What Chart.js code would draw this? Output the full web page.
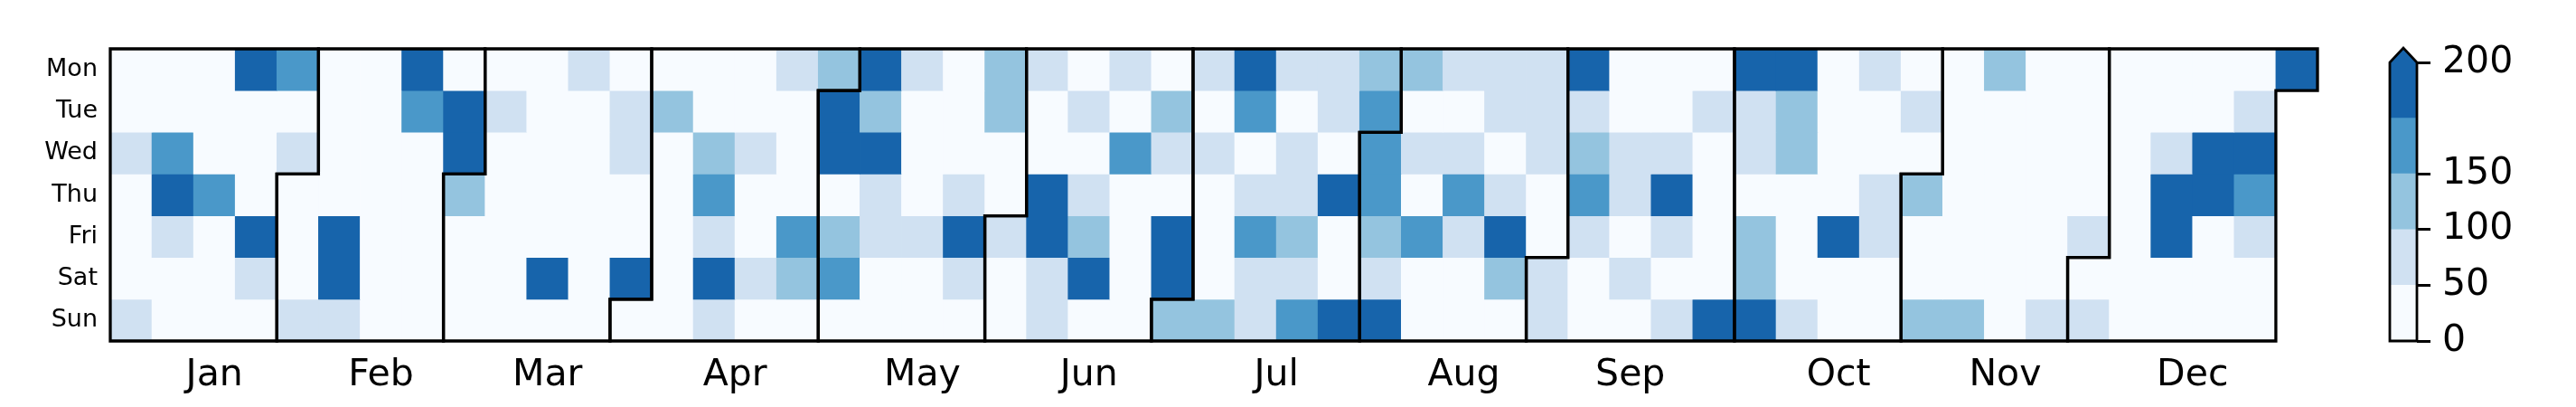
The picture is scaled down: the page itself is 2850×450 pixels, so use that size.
<!DOCTYPE html>
<html><head><meta charset="utf-8">
<script src="https://cdn.jsdelivr.net/npm/chart.js@4.4.1/dist/chart.umd.min.js"></script>
<style>
html,body{margin:0;padding:0;background:#fff;width:2850px;height:450px;overflow:hidden}
#heat{position:absolute;left:0;top:0;width:2600px;height:450px}
#cbar{position:absolute;left:2600px;top:0;width:250px;height:450px}
</style></head><body>
<div id="heat"><canvas id="c1"></canvas></div>
<div id="cbar"><canvas id="c2"></canvas></div>
<script>
const year = 2018;
const monthNames = ['Jan','Feb','Mar','Apr','May','Jun','Jul','Aug','Sep','Oct','Nov','Dec'];
const weekdayLabels = ['Mon','Tue','Wed','Thu','Fri','Sat','Sun'];

// daily values, one array per month
const jan = [14,22,68,9,31,17,74, 26,11,162,214,81,19,35, 8,27,13,158,21,40,16, 236,29,12,33,191,66,24, 167,18,72];
const feb = [20,34,15,63, 28,10,41,23,205,188,77, 12,36,19,25,7,30,14, 221,164,16,38,22,9,27, 33,247,196];
const mar = [118,25,11,37, 19,84,29,6,42,15,24, 32,13,21,44,10,209,26, 71,18,35,9,28,40,14, 23,58,92,16,31,183];
const apr = [17, 30,127,12,45,21,8,36, 24,15,133,171,64,229,88, 11,39,55,20,27,97,13, 61,34,18,42,159,141,22, 108];
const may = [193,218,26,112,166,14, 254,136,201,79,57,33,19, 69,41,10,28,86,23,37, 15,29,44,62,187,75,20, 124,102,31,12];
const jun = [83,25,38, 59,16,43,232,199,91,67, 27,73,11,56,129,211,34, 80,22,168,9,47,30,18, 26,115,64,39,242,185];
const jul = [137, 66,21,94,33,14,45,121, 226,157,28,70,163,88,52, 77,36,60,99,144,65,169, 85,53,24,203,17,40,238, 131,161];
const aug = [156,172,119,76,195, 139,27,82,35,160,13,44, 63,19,71,154,96,32,8, 54,89,41,67,217,147,23, 78,58,93,29,46];
const sep = [61,87, 208,74,126,165,52,15,37, 26,43,81,69,11,95,30, 20,39,57,224,90,16,63, 34,71,22,47,13,28,189];
const oct = [231,79,66,24,134,110,202, 197,146,122,38,17,29,73, 12,45,21,36,258,9,31, 84,27,48,62,91,19,40, 25,56,14];
const nov = [113,33,18,128, 22,41,10,35,27,46,142, 117,20,39,15,31,8,43, 26,12,37,23,44,18,65, 30,14,42,21,88];
const dec = [24,70, 13,38,27,9,45,19,33, 16,41,82,213,186,28,11, 35,22,244,199,17,40,25, 30,76,207,152,93,14,36, 228];

// colour levels (BoundaryNorm-like, extend max)
const levels = [0, 50, 100, 150, 175, 200];
const levelColors = ['#f7fbff', '#d0e1f2', '#94c4df', '#4a98c9', '#1764ab'];
const colorbarTicks = [0, 50, 100, 150, 200];

const months = [jan,feb,mar,apr,may,jun,jul,aug,sep,oct,nov,dec];
const jan1wd = (new Date(Date.UTC(year,0,1)).getUTCDay() + 6) % 7;
const days = [];
let doy = 0;
months.forEach((arr, m) => arr.forEach(v => {
  const idx = doy + jan1wd;
  days.push({week: Math.floor(idx / 7), wd: idx % 7, value: v, month: m});
  doy++;
}));
const nWeeks = days[days.length - 1].week + 1;
function colorFor(v) {
  let k = 0;
  for (let i = 1; i < levels.length - 1; i++) if (v >= levels[i]) k = i;
  return levelColors[k];
}
const datasets = weekdayLabels.map((name, wd) => {
  const dd = days.filter(d => d.wd === wd);
  return {label: name,
          data: dd.map(d => ({x: d.week + 0.5, y: [wd, wd + 1]})),
          backgroundColor: dd.map(d => colorFor(d.value)),
          borderWidth: 0, grouped: false, categoryPercentage: 1, barPercentage: 1};
});
const monthInfo = months.map((_, m) => {
  const md = days.filter(d => d.month === m);
  return {first: md[0], last: md[md.length - 1]};
});
const monthCenters = monthInfo.map(mi => (mi.first.week + mi.last.week + 1) / 2);

const FONT = 'DejaVu Sans';

const outlinePlugin = {
  id: 'outline',
  afterDatasetsDraw(chart) {
    const ctx = chart.ctx, xs = chart.scales.x, ys = chart.scales.y;
    const X = v => xs.getPixelForValue(v), Y = v => ys.getPixelForValue(v);
    ctx.save();
    ctx.strokeStyle = '#000';
    ctx.lineWidth = 3.3;
    ctx.lineJoin = 'miter';
    monthInfo.forEach(mi => {
      const w1 = mi.first.week, d1 = mi.first.wd, w2 = mi.last.week, d2 = mi.last.wd;
      const pts = [[w1, d1], [w1 + 1, d1], [w1 + 1, 0], [w2 + 1, 0], [w2 + 1, d2 + 1], [w2, d2 + 1], [w2, 7], [w1, 7]];
      ctx.beginPath();
      pts.forEach((p, i) => { const px = X(p[0]), py = Y(p[1]); if (i) ctx.lineTo(px, py); else ctx.moveTo(px, py); });
      ctx.closePath();
      ctx.stroke();
    });
    ctx.restore();
  }
};

new Chart(document.getElementById('c1'), {
  type: 'bar',
  data: {datasets},
  options: {
    responsive: true, maintainAspectRatio: false, animation: false,
    layout: {padding: {left: 0, right: 36, top: 54, bottom: 0}},
    plugins: {legend: {display: false}, tooltip: {enabled: false}},
    scales: {
      x: {type: 'linear', position: 'bottom', min: 0, max: nWeeks, offset: false, bounds: 'data',
        afterBuildTicks: s => { s.ticks = monthCenters.map(v => ({value: v})); },
        ticks: {callback: (v, i) => monthNames[i], autoSkip: false, maxRotation: 0,
                font: {family: FONT, size: 41}, color: '#000', padding: 14},
        grid: {display: false, drawTicks: false, offset: false}, border: {display: false},
        afterFit: s => { s.height = 73; s.paddingLeft = 0; s.paddingRight = 0; }},
      y: {type: 'linear', min: 0, max: 7, reverse: true,
        afterBuildTicks: s => { s.ticks = weekdayLabels.map((_, i) => ({value: i + 0.5})); },
        ticks: {callback: (v, i) => weekdayLabels[i], autoSkip: false,
                font: {family: FONT, size: 27}, color: '#000', padding: 14},
        grid: {display: false, drawTicks: false}, border: {display: false},
        afterFit: s => { s.width = 122; s.paddingTop = 0; s.paddingBottom = 0; }}
    }
  },
  plugins: [outlinePlugin]
});

// colorbar
const nBands = levelColors.length;
const bandTickPos = colorbarTicks.map(t => levels.indexOf(t));
const cbarPlugin = {
  id: 'cbarOutline',
  afterDatasetsDraw(chart) {
    const ctx = chart.ctx, ys = chart.scales.y, a = chart.chartArea;
    const top = ys.getPixelForValue(nBands), bot = ys.getPixelForValue(0);
    const tip = ys.getPixelForValue(nBands + 0.26);
    const L = a.left, R = a.right, C = (L + R) / 2;
    ctx.save();
    ctx.fillStyle = levelColors[nBands - 1];
    ctx.beginPath(); ctx.moveTo(L, top); ctx.lineTo(C, tip); ctx.lineTo(R, top); ctx.closePath(); ctx.fill();
    ctx.strokeStyle = '#000'; ctx.lineWidth = 2.8; ctx.lineJoin = 'miter';
    ctx.beginPath(); ctx.moveTo(L, bot); ctx.lineTo(L, top); ctx.lineTo(C, tip); ctx.lineTo(R, top); ctx.lineTo(R, bot); ctx.closePath(); ctx.stroke();
    ctx.restore();
  }
};
new Chart(document.getElementById('c2'), {
  type: 'bar',
  data: {labels: [''], datasets: levelColors.map((c, i) => ({data: [[i, i + 1]], backgroundColor: c, borderWidth: 0,
          grouped: false, categoryPercentage: 1, barPercentage: 1}))},
  options: {
    responsive: true, maintainAspectRatio: false, animation: false,
    layout: {padding: {left: 44, right: 0, top: 69, bottom: 73}},
    plugins: {legend: {display: false}, tooltip: {enabled: false}},
    scales: {
      x: {display: false},
      y: {position: 'right', min: 0, max: nBands,
        afterBuildTicks: s => { s.ticks = bandTickPos.map(v => ({value: v})); },
        ticks: {callback: (v, i) => String(colorbarTicks[i]), autoSkip: false,
                font: {family: FONT, size: 41}, color: '#000', padding: 13},
        grid: {drawOnChartArea: false, drawTicks: true, tickLength: 15, color: '#000', lineWidth: 3},
        border: {display: false},
        afterFit: s => { s.width = 176; }}
    }
  },
  plugins: [cbarPlugin]
});
</script>
</body></html>
